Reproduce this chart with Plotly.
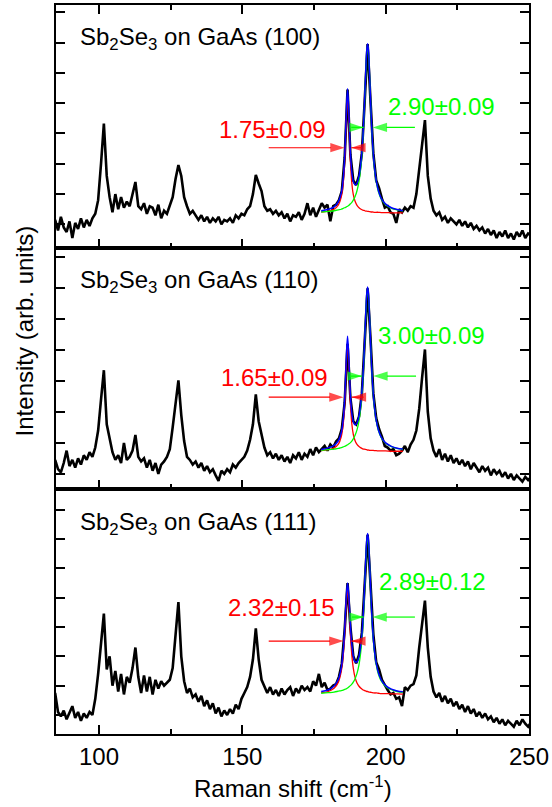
import numpy as np
import plotly.graph_objects as go

# ---------------- data ----------------
raman_shift = np.round(np.arange(84.7, 250.71, 1.0), 1)  # spectrometer grid (cm-1)

spec_100 = [
    0.15, -0.20, 0.25, -0.10, -0.25, 0.10, -0.45, 0.05, -0.15, 0.20,
    -0.10, 0.15, -0.05, 0.20, 0.35, 0.80, 2.00, 3.33, 1.60, 0.90,
    0.40, 1.00, 0.50, 0.90, 0.55, 0.75, 0.60, 1.00, 1.40, 0.60,
    0.50, 0.70, 0.35, 0.60, 0.55, 0.30, 0.65, 0.20, 0.45, 0.35,
    0.60, 0.90, 1.50, 1.96, 1.60, 0.90, 0.60, 0.35, 0.45, 0.30,
    0.15, 0.30, 0.10, 0.25, 0.05, 0.20, 0.10, 0.25, 0.00, 0.15,
    0.10, 0.20, 0.05, 0.30, 0.20, 0.35, 0.30, 0.50, 0.60, 1.00,
    1.63, 1.35, 1.10, 0.60, 0.45, 0.50, 0.35, 0.45, 0.30, 0.40,
    0.20, 0.35, 0.10, 0.30, 0.25, 0.40, 0.15, 0.35, 0.70, 0.30,
    0.55, 0.25, 0.45, 0.70, 0.55, 0.65, 0.10, 0.60, 0.65, 0.80,
    1.10, 2.20, 4.45, 2.30, 1.45, 1.30, 1.60, 2.35, 4.10, 5.95,
    4.10, 2.35, 1.45, 1.20, 0.85, 0.55, 0.60, 0.40, 0.35, 0.05,
    0.50, 0.40, 0.55, 0.45, 0.60, 0.55, 1.00, 1.75, 2.50, 3.44,
    1.60, 0.85, 0.45, 0.30, 0.40, 0.15, 0.25, 0.05, 0.20, 0.10,
    0.00, 0.15, -0.05, 0.10, -0.10, 0.05, -0.15, -0.05, -0.20, -0.10,
    -0.30, -0.15, -0.35, -0.20, -0.45, -0.25, -0.40, -0.20, -0.45, -0.30,
    -0.50, -0.25, -0.40, -0.20, -0.45, -0.30, -0.35,
]

spec_110 = [
    0.45, 0.15, 0.05, 0.35, 0.75, 0.25, 0.45, 0.20, 0.50, 0.30,
    0.60, 0.45, 0.70, 0.55, 0.85, 1.40, 2.40, 3.35, 1.60, 1.10,
    0.70, 0.45, 0.60, 0.35, 1.00, 0.45, 0.55, 0.75, 1.26, 0.55,
    0.40, 0.50, 0.20, 0.45, 0.10, 0.35, 0.00, 0.30, 0.40, 0.55,
    0.80, 1.50, 2.30, 3.02, 1.90, 1.06, 0.55, 0.45, 0.30, 0.40,
    0.20, 0.35, 0.10, 0.25, 0.05, 0.15, -0.05, -0.23, 0.10, 0.00,
    0.15, 0.05, 0.30, 0.20, 0.35, 0.45, 0.55, 0.75, 1.10, 1.60,
    2.57, 1.70, 1.25, 0.85, 0.60, 0.70, 0.50, 0.65, 0.45, 0.60,
    0.40, 0.55, 0.35, 0.60, 0.50, 0.70, 0.45, 0.65, 0.55, 0.80,
    0.60, 0.85, 0.70, 0.80, 0.90, 0.75, 0.95, 0.85, 1.05, 1.15,
    1.45, 2.30, 4.20, 2.45, 1.70, 1.60, 1.85, 2.60, 4.30, 6.00,
    4.40, 2.60, 1.80, 1.45, 1.20, 0.90, 0.85, 0.75, 0.80, 0.60,
    0.65, 0.75, 0.90, 0.70, 0.95, 1.10, 1.40, 2.10, 3.10, 4.02,
    2.00, 1.15, 0.75, 0.55, 0.80, 0.45, 0.65, 0.40, 0.60, 0.35,
    0.50, 0.30, 0.45, 0.25, 0.40, 0.15, 0.35, 0.20, 0.05, 0.25,
    0.10, 0.20, -0.05, 0.15, 0.00, 0.10, -0.10, 0.05, -0.15, 0.00,
    -0.20, -0.05, -0.15, -0.25, -0.10, -0.20, -0.10,
]

spec_111 = [
    0.75, 0.10, -0.05, 0.15, -0.15, 0.05, 0.30, -0.10, 0.10, -0.20,
    0.05, -0.10, 0.10, 0.00, 0.55, 1.40, 2.40, 3.46, 1.55, 2.00,
    1.00, 1.50, 0.80, 1.40, 0.70, 1.30, 1.10, 1.60, 2.30, 1.30,
    0.75, 1.35, 0.80, 1.30, 0.70, 1.20, 0.90, 1.15, 1.00, 1.10,
    1.20, 1.60, 2.60, 3.85, 2.00, 1.15, 0.75, 0.90, 0.60, 0.70,
    0.45, 0.65, 0.30, 0.50, 0.20, 0.40, 0.05, 0.25, -0.05, 0.15,
    0.00, 0.20, 0.05, 0.35, 0.20, 0.55, 0.75, 0.95, 1.30, 1.90,
    2.95, 1.90, 1.20, 0.95, 0.75, 0.95, 0.70, 0.85, 0.65, 0.90,
    0.70, 0.85, 0.95, 0.65, 0.90, 0.75, 1.00, 0.85, 0.95, 0.80,
    1.15, 1.00, 1.40, 0.95, 1.10, 0.85, 0.90, 1.00, 1.05, 1.30,
    1.75, 2.90, 4.50, 3.00, 2.00, 1.76, 2.05, 2.80, 4.60, 6.15,
    4.50, 2.75, 1.80, 1.55, 1.20, 1.00, 0.85, 0.70, 0.75, 0.55,
    0.60, 0.30, 0.95, 0.85, 1.00, 1.05, 1.35, 2.30, 3.20, 3.90,
    2.30, 1.30, 0.80, 0.60, 0.75, 0.45, 0.65, 0.40, 0.55, 0.30,
    0.45, 0.20, 0.35, 0.10, 0.30, 0.05, 0.20, -0.05, 0.10, -0.10,
    0.05, -0.15, -0.05, -0.25, -0.10, -0.30, -0.15, -0.35, -0.20, -0.30,
    -0.40, -0.20, -0.35, -0.15, -0.30, -0.40, -0.25,
]

fit_x = [177.5, 180, 182, 183.5, 184.5, 185.2, 185.7, 186.2, 186.7, 187.2,
         187.7, 188.2, 188.7, 189.3, 190, 190.7, 191.4, 192, 192.5, 193,
         193.4, 193.7, 194, 194.4, 194.9, 195.4, 196, 196.7, 197.5, 198.5,
         200, 202, 204, 206]

red_100 = [0.41, 0.44, 0.50, 0.64, 0.90, 1.36, 2.05, 3.29, 4.25, 3.29,
           2.05, 1.36, 0.99, 0.77, 0.63, 0.55, 0.50, 0.47, 0.46, 0.44,
           0.44, 0.43, 0.43, 0.42, 0.41, 0.41, 0.40, 0.40, 0.40, 0.39,
           0.39, 0.38, 0.38, 0.38]
green_100 = [0.41, 0.43, 0.45, 0.48, 0.50, 0.53, 0.55, 0.57, 0.60, 0.63,
             0.68, 0.73, 0.80, 0.91, 1.11, 1.42, 1.94, 2.70, 3.65, 4.86,
             5.67, 5.90, 5.67, 4.86, 3.65, 2.70, 1.94, 1.42, 1.07, 0.83,
             0.65, 0.53, 0.48, 0.45]
sum_100 = [0.45, 0.50, 0.58, 0.75, 1.03, 1.51, 2.23, 3.49, 4.48, 3.56,
           2.36, 1.71, 1.42, 1.31, 1.36, 1.59, 2.07, 2.80, 3.74, 4.93,
           5.74, 5.96, 5.73, 4.90, 3.70, 2.74, 1.98, 1.45, 1.10, 0.85,
           0.67, 0.55, 0.49, 0.45]

red_110 = [0.75, 0.78, 0.84, 0.96, 1.20, 1.61, 2.24, 3.37, 4.23, 3.37,
           2.24, 1.61, 1.28, 1.08, 0.95, 0.88, 0.84, 0.81, 0.80, 0.79,
           0.78, 0.77, 0.77, 0.76, 0.76, 0.76, 0.75, 0.75, 0.74, 0.74,
           0.74, 0.73, 0.73, 0.73]
green_110 = [0.76, 0.78, 0.80, 0.82, 0.85, 0.87, 0.89, 0.91, 0.94, 0.97,
             1.01, 1.06, 1.13, 1.24, 1.42, 1.72, 2.22, 2.94, 3.85, 4.99,
             5.77, 5.99, 5.77, 4.99, 3.85, 2.94, 2.22, 1.72, 1.39, 1.16,
             0.99, 0.88, 0.82, 0.79]
sum_110 = [0.79, 0.84, 0.92, 1.07, 1.33, 1.76, 2.41, 3.55, 4.45, 3.61,
           2.53, 1.95, 1.69, 1.59, 1.65, 1.88, 2.34, 3.03, 3.93, 5.06,
           5.83, 6.04, 5.82, 5.04, 3.89, 2.97, 2.25, 1.74, 1.41, 1.18,
           1.00, 0.89, 0.83, 0.80]

red_111 = [0.76, 0.80, 0.91, 1.12, 1.48, 2.04, 2.75, 3.72, 4.28, 3.72,
           2.75, 2.04, 1.60, 1.29, 1.09, 0.98, 0.91, 0.86, 0.84, 0.82,
           0.80, 0.80, 0.79, 0.78, 0.77, 0.76, 0.75, 0.75, 0.74, 0.73,
           0.73, 0.72, 0.72, 0.71]
green_111 = [0.74, 0.76, 0.78, 0.81, 0.83, 0.85, 0.87, 0.89, 0.92, 0.96,
             1.00, 1.05, 1.12, 1.23, 1.42, 1.72, 2.23, 2.97, 3.90, 5.07,
             5.87, 6.09, 5.87, 5.07, 3.90, 2.97, 2.23, 1.72, 1.38, 1.15,
             0.97, 0.86, 0.80, 0.77]
sum_111 = [0.80, 0.86, 0.99, 1.22, 1.61, 2.19, 2.93, 3.91, 4.50, 3.97,
           3.05, 2.39, 2.02, 1.82, 1.81, 2.00, 2.44, 3.13, 4.04, 5.19,
           5.97, 6.19, 5.96, 5.15, 3.97, 3.03, 2.29, 1.77, 1.43, 1.19,
           1.00, 0.88, 0.82, 0.79]

panel_titles = ["(100)", "(110)", "(111)"]
fwhm_red = ["1.75±0.09", "1.65±0.09", "2.32±0.15"]
fwhm_green = ["2.90±0.09", "3.00±0.09", "2.89±0.12"]

x_ticks = [100, 150, 200, 250]

# ---------------- figure ----------------
FONT = "Liberation Sans, Arial, sans-serif"
FS = 24
BLACK = "#000000"
RED = "#FF0000"
GREEN = "#00FF00"
BLUE = "#0000FF"

panels = [
    dict(ax="x", ay="y", spec=spec_100, red=red_100, green=green_100, fit=sum_100,
         dom=[0.6662, 1.0], yr=[-0.79, 7.24],
         lab_y=6.12, red_t=(160.6, 3.14), green_t=(219.5, 3.88),
         red_y=2.53, green_y=3.20,
         red_arr=[(159.2, 185.66), (191.7, 188.0)],
         green_arr=[(188.0, 192.3), (210.2, 195.5)]),
    dict(ax="x2", ay="y2", spec=spec_110, red=red_110, green=green_110, fit=sum_110,
         dom=[0.3365, 0.6662], yr=[-0.48, 7.29],
         lab_y=6.23, red_t=(161.3, 3.10), green_t=(216.0, 4.46),
         red_y=2.48, green_y=3.16,
         red_arr=[(159.2, 185.3), (192.3, 188.2)],
         green_arr=[(187.6, 191.7), (210.6, 195.7)]),
    dict(ax="x3", ay="y3", spec=spec_111, red=red_111, green=green_111, fit=sum_111,
         dom=[0.0, 0.3365], yr=[-0.65, 7.72],
         lab_y=6.53, red_t=(163.6, 3.66), green_t=(216.3, 4.56),
         red_y=2.52, green_y=3.34,
         red_arr=[(159.2, 185.3), (191.7, 188.0)],
         green_arr=[(188.2, 192.3), (210.2, 195.4)]),
]

fig = go.Figure()
annotations = []
layout_axes = {}


def add_arrow(tail, tip, yv, color, xa, ya):
    fig.add_trace(go.Scatter(
        x=[tail, tip], y=[yv, yv], mode="lines+markers",
        line=dict(color=color, width=1.2),
        marker=dict(symbol="arrow", size=[0, 15], color=color, angleref="previous",
                    line=dict(width=0)),
        xaxis=xa, yaxis=ya, showlegend=False, hoverinfo="skip"))


for i, p in enumerate(panels):
    fig.add_trace(go.Scatter(x=raman_shift, y=p["spec"], mode="lines",
                             line=dict(color=BLACK, width=2.6),
                             xaxis=p["ax"], yaxis=p["ay"], showlegend=False))
    fig.add_trace(go.Scatter(x=fit_x, y=p["red"], mode="lines", line=dict(color=RED, width=1.3),
                             line_shape="spline", xaxis=p["ax"], yaxis=p["ay"], showlegend=False))
    fig.add_trace(go.Scatter(x=fit_x, y=p["green"], mode="lines", line=dict(color=GREEN, width=1.3),
                             line_shape="spline", xaxis=p["ax"], yaxis=p["ay"], showlegend=False))
    fig.add_trace(go.Scatter(x=fit_x, y=p["fit"], mode="lines", line=dict(color=BLUE, width=1.5),
                             line_shape="spline", xaxis=p["ax"], yaxis=p["ay"], showlegend=False))
    for (tail, tip) in p["red_arr"]:
        add_arrow(tail, tip, p["red_y"], RED, p["ax"], p["ay"])
    for (tail, tip) in p["green_arr"]:
        add_arrow(tail, tip, p["green_y"], GREEN, p["ax"], p["ay"])

    xname = "xaxis" if i == 0 else f"xaxis{i+1}"
    yname = "yaxis" if i == 0 else f"yaxis{i+1}"
    layout_axes[xname] = dict(
        range=[85, 250], anchor=p["ay"], domain=[0, 1],
        tickvals=x_ticks, ticks="inside", ticklen=9, tickwidth=1.5, tickcolor=BLACK,
        minor=dict(ticks="inside", ticklen=5, tickwidth=1.5, tickcolor=BLACK, dtick=25, tick0=0),
        showline=True, linecolor=BLACK, linewidth=2,
        mirror="allticks" if i == 0 else True,
        showgrid=False, zeroline=False,
        showticklabels=(i == 2),
        tickfont=dict(family=FONT, size=FS, color=BLACK),
    )
    if i > 0:
        layout_axes[xname]["matches"] = "x"
    layout_axes[yname] = dict(
        range=p["yr"], domain=p["dom"], anchor=p["ax"],
        tick0=0, dtick=1, ticks="inside", ticklen=9, tickwidth=1.5, tickcolor=BLACK,
        showline=True, linecolor=BLACK, linewidth=2, mirror="allticks",
        showgrid=False, zeroline=False, showticklabels=False,
    )

    xr, yr_ = p["ax"], p["ay"]
    annotations.append(dict(
        x=92.6, y=p["lab_y"], xref=xr, yref=yr_, xanchor="left", yanchor="middle",
        text="Sb<sub>2</sub>Se<sub>3</sub> on GaAs " + panel_titles[i], showarrow=False,
        font=dict(family=FONT, size=FS, color=BLACK)))
    annotations.append(dict(
        x=p["red_t"][0], y=p["red_t"][1], xref=xr, yref=yr_, xanchor="center", yanchor="middle",
        text=fwhm_red[i], showarrow=False, font=dict(family=FONT, size=FS, color=RED)))
    annotations.append(dict(
        x=p["green_t"][0], y=p["green_t"][1], xref=xr, yref=yr_, xanchor="center", yanchor="middle",
        text=fwhm_green[i], showarrow=False, font=dict(family=FONT, size=FS, color=GREEN)))

annotations.append(dict(
    x=-0.067, y=0.5527, xref="paper", yref="paper", xanchor="center", yanchor="middle",
    text="Intensity (arb. units)", textangle=-90, showarrow=False,
    font=dict(family=FONT, size=FS, color=BLACK)))
annotations.append(dict(
    x=0.5, y=-0.0725, xref="paper", yref="paper", xanchor="center", yanchor="middle",
    text="Raman shift (cm<sup>-1</sup>)", showarrow=False,
    font=dict(family=FONT, size=FS, color=BLACK)))

fig.update_layout(
    width=552, height=807,
    margin=dict(l=56, r=21, t=3, b=73),
    paper_bgcolor="white", plot_bgcolor="white",
    font=dict(family=FONT, size=FS, color=BLACK),
    annotations=annotations,
    **layout_axes,
)

fig.write_html("out.html")
